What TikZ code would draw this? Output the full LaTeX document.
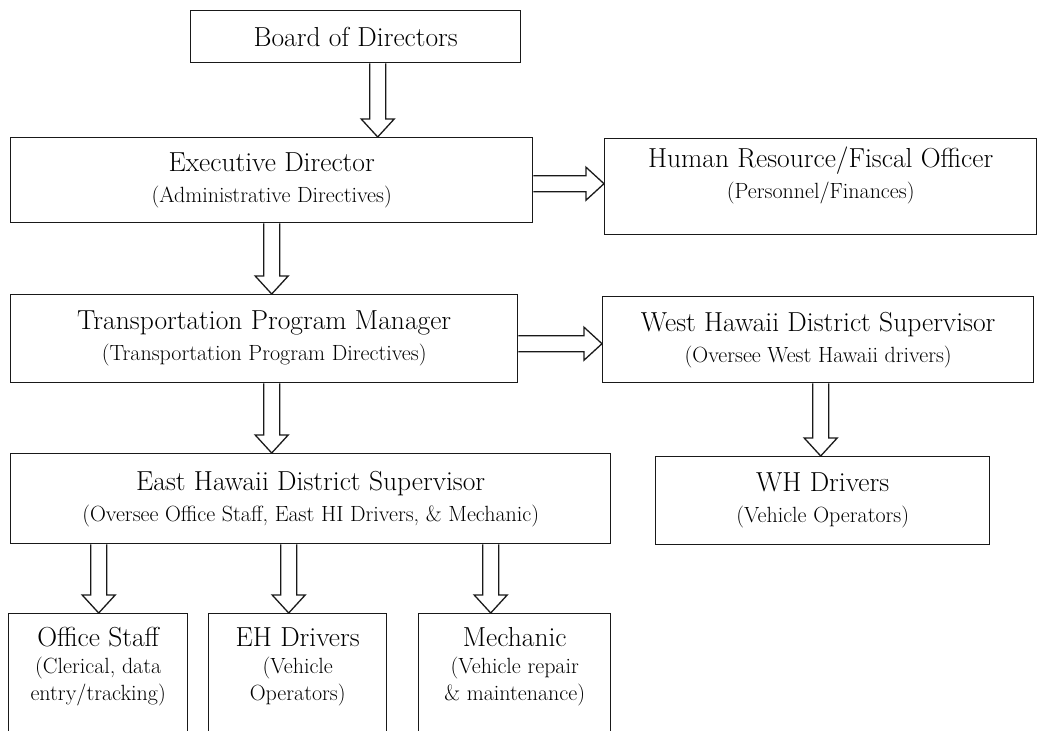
\documentclass[tikz,border=0pt]{standalone}
\usepackage{fontspec}
\usetikzlibrary{calc}

% sizes of the hollow arrows
\def\shaftw{8pt}
\def\headw{16.5pt}
\def\headl{18pt}

\newcommand\subline[1]{{\fontsize{22}{26}\selectfont #1}}

% hollow arrow pointing down, from box #1 to box #2, moved sideways by #3
\newcommand\downblock[3]{%
  \draw[blockarrow] let \p1=([xshift=#3]#1.south), \p2=(#2.north) in
    (\x1-\shaftw,\y1) -- (\x1-\shaftw,\y2+\headl) -- (\x1-\headw,\y2+\headl) -- (\x1,\y2)
    -- (\x1+\headw,\y2+\headl) -- (\x1+\shaftw,\y2+\headl) -- (\x1+\shaftw,\y1);}

% hollow arrow pointing right, from box #1 to box #2, moved up by #3
\newcommand\rightblock[3]{%
  \draw[blockarrow] let \p1=([yshift=#3]#1.east), \p2=(#2.west) in
    (\x1,\y1+\shaftw) -- (\x2-\headl,\y1+\shaftw) -- (\x2-\headl,\y1+\headw) -- (\x2,\y1)
    -- (\x2-\headl,\y1-\headw) -- (\x2-\headl,\y1-\shaftw) -- (\x1,\y1-\shaftw);}

\begin{document}
\begin{tikzpicture}[x=1pt,y=-1pt,
  box/.style={draw=black!90, line width=1.4pt, align=center, anchor=north west,
    inner sep=2pt, font=\fontsize{27.5}{31}\selectfont},
  leaf/.style={box, font=\fontsize{27.5}{27}\selectfont},
  blockarrow/.style={draw=black!90, line width=1.3pt, fill=white, line join=miter}]

  \useasboundingbox (0,0) rectangle (1039,731);
  \clip (0,0) rectangle (1039,731);

  % top of the chart
  \node[box, minimum width=330pt, minimum height=52pt] (board) at (190,10) {Board of Directors};
  \node[box, minimum width=522pt, minimum height=85pt] (exec) at (10,137)
    {Executive Director\\ \subline{(Administrative Directives)}};
  \node[box, minimum width=432pt, minimum height=96pt] (hr) at (604,138)
    {Human Resource/Fiscal Officer\\ \subline{(Personnel/Finances)}\rule[-28pt]{0pt}{0pt}};

  % program level
  \node[box, minimum width=507pt, minimum height=88pt] (tpm) at (10,294)
    {Transportation Program Manager\\ \subline{(Transportation Program Directives)}};
  \node[box, minimum width=431pt, minimum height=86pt] (wh) at (602,296)
    {West Hawaii District Supervisor\\ \subline{(Oversee West Hawaii drivers)}};

  % district level
  \node[box, minimum width=600pt, minimum height=90pt] (eh) at (10,453)
    {East Hawaii District Supervisor\\ \subline{(Oversee Office Staff, East HI Drivers, \& Mechanic)}};
  \node[box, minimum width=334pt, minimum height=88pt] (whd) at (655,456)
    {WH Drivers\\ \subline{(Vehicle Operators)}};

  % staff, cut off at the lower edge
  \node[leaf, minimum width=179pt, minimum height=150pt] (office) at (8,613)
    {Office Staff\\ \subline{(Clerical, data}\\ \subline{entry/tracking)}\rule[-50pt]{0pt}{0pt}};
  \node[leaf, minimum width=178pt, minimum height=150pt] (ehd) at (208,613)
    {EH Drivers\\ \subline{(Vehicle}\\ \subline{Operators)}\rule[-50pt]{0pt}{0pt}};
  \node[leaf, minimum width=192pt, minimum height=150pt] (mech) at (418,613)
    {Mechanic\\ \subline{(Vehicle repair}\\ \subline{\& maintenance)}\rule[-50pt]{0pt}{0pt}};

  % arrows
  \downblock{board}{exec}{22pt}
  \downblock{exec}{tpm}{0pt}
  \downblock{tpm}{eh}{7.5pt}
  \downblock{wh}{whd}{2.5pt}
  \downblock{eh}{office}{-212pt}
  \downblock{eh}{ehd}{-22pt}
  \downblock{eh}{mech}{180pt}
  \rightblock{exec}{hr}{-3.5pt}
  \rightblock{tpm}{wh}{-5pt}
\end{tikzpicture}
\end{document}
